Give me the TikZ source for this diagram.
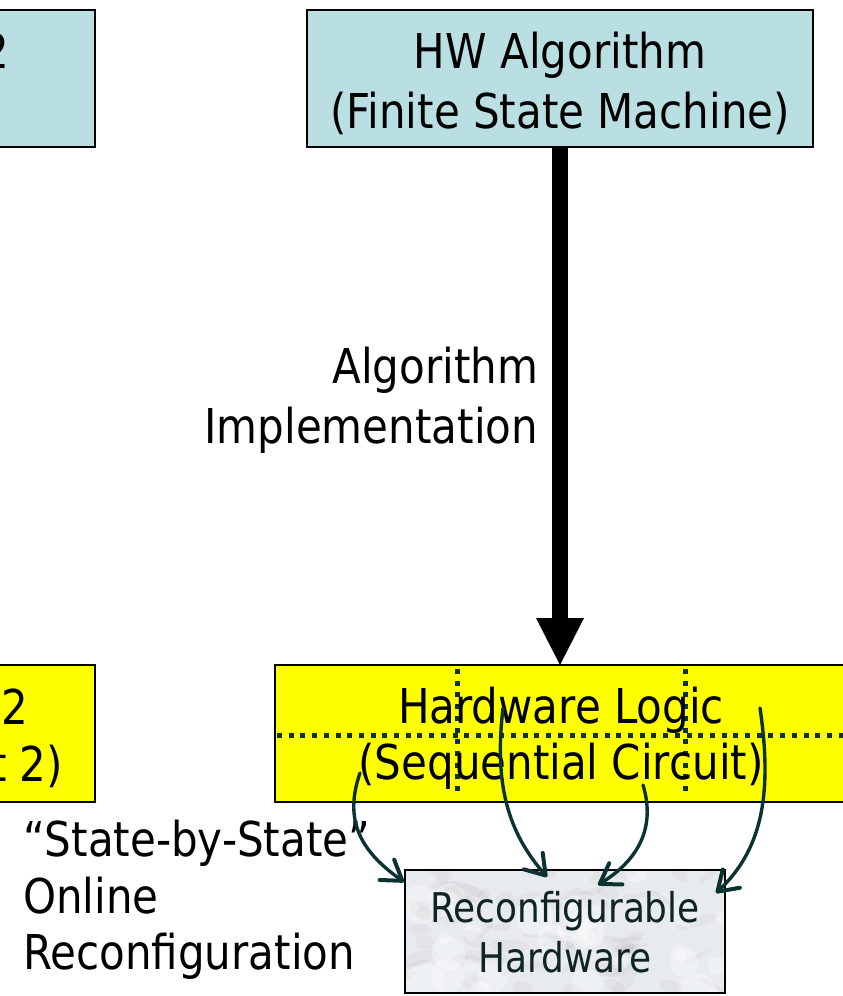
\documentclass[tikz,border=0pt]{standalone}
\usepackage{fontspec}
\setmainfont{DejaVu Sans}[FakeStretch=0.875]
\usetikzlibrary{arrows.meta}

\definecolor{algcyan}{RGB}{186,223,227}
\definecolor{logicyellow}{RGB}{255,255,0}
\definecolor{wire}{RGB}{12,50,50}
\definecolor{marble}{RGB}{232,235,238}
\definecolor{marbleink}{RGB}{16,36,36}

\begin{document}
\begin{tikzpicture}[x=1pt,y=-1pt,
  panel/.style={draw=black, line width=1.6pt, inner sep=0pt, outer sep=0pt},
  bigtext/.style={font=\fontsize{48}{60}\selectfont, inner sep=0pt, outer sep=0pt},
  flow/.style={draw=wire, line width=3.4pt, line cap=round,
    -{Straight Barb[length=19pt,width=25pt,line width=4pt,line cap=round,line join=round]}},
  gridline/.style={draw=wire, line width=5pt, dash pattern=on 5pt off 6.7pt},
]
\useasboundingbox (0,0) rectangle (843,996);
\clip (0,0) rectangle (843,996);

% ---- boxes on the left (cut by the page edge) ----
\node[panel, fill=algcyan, minimum width=300pt, minimum height=137pt,
      anchor=north east] (swalg) at (95,10) {};
\node[bigtext, anchor=base east] (swalgtext) at (9,68) {2};

\node[panel, fill=logicyellow, minimum width=300pt, minimum height=137pt,
      anchor=north east] (swlogic) at (95,665) {};
\node[bigtext, anchor=base east] (swlogictop) at (28,724) {2};
\node[bigtext, anchor=base east] (swlogicbot) at (63,781) {t 2)};

% ---- HW algorithm box ----
\node[panel, fill=algcyan, minimum width=506pt, minimum height=137pt,
      anchor=north west] (hwalg) at (307,10) {};
\node[bigtext, align=center] (hwalgtext) at (560,83)
  {HW Algorithm\\(Finite State Machine)};

% ---- hardware logic box with its dotted partition ----
\node[panel, fill=logicyellow, minimum width=600pt, minimum height=137pt,
      anchor=north west] (hwlogic) at (275,665) {};
\coordinate (hl) at (277,735);
\coordinate (hr) at (850,735);
\coordinate (v1t) at (457,669);
\coordinate (v1b) at (457,796);
\coordinate (v2t) at (685,669);
\coordinate (v2b) at (685,796);
\draw[gridline] (hl) -- (hr);
\draw[gridline] (v1t) -- (v1b);
\draw[gridline] (v2t) -- (v2b);
\node[bigtext, align=center, font=\fontsize{48}{56}\selectfont] (hwlogictext) at (561,738)
  {Hardware Logic\\(Sequential Circuit)};

% ---- thick implementation arrow ----
\draw[line width=16pt, -{Triangle[length=47pt,width=48pt,line width=0pt]}]
  (hwalg.south) -- (hwalg.south |- hwlogic.north);
\node[bigtext, align=right, anchor=east] (implabel) at (538,400)
  {Algorithm\\Implementation};

% ---- reconfigurable hardware (marble) ----
\node[panel, fill=marble, minimum width=320pt, minimum height=123pt,
      anchor=north west] (rhw) at (405,870) {};
\begin{scope}
  \clip (rhw.north west) rectangle (rhw.south east);
  \pgfmathsetseed{11}
  \foreach \i in {1,...,70}{
    \pgfmathsetmacro\mx{405+320*rnd}
    \pgfmathsetmacro\my{870+123*rnd}
    \pgfmathsetmacro\ma{5+18*rnd}
    \pgfmathsetmacro\mb{2+6*rnd}
    \pgfmathsetmacro\mr{-40+80*rnd}
    \fill[black!55, opacity=0.06, rotate around={\mr:(\mx,\my)}]
      (\mx,\my) ellipse ({\ma pt} and {\mb pt});
  }
  \foreach \i in {1,...,30}{
    \pgfmathsetmacro\mx{405+320*rnd}
    \pgfmathsetmacro\my{870+123*rnd}
    \pgfmathsetmacro\ma{6+14*rnd}
    \fill[white, opacity=0.3] (\mx,\my) circle ({\ma pt});
  }
\end{scope}
\draw[black, line width=1.6pt] (rhw.north west) rectangle (rhw.south east);
\node[inner sep=0pt, text=marbleink, align=center,
      font=\fontsize{41}{50}\selectfont] (rhwtext) at (565,932)
  {Reconfigurable\\Hardware};

% ---- online reconfiguration label ----
\node[inner sep=0pt, align=left, anchor=west,
      font=\fontsize{48}{56.5}\selectfont] (onlinelabel) at (23,900)
  {“State-by-State”\\Online\\Reconfiguration};

% ---- state-by-state reconfiguration arrows ----
\coordinate (s1) at (360,773);
\coordinate (t1) at (404,882);
\coordinate (s2) at (503,708);
\coordinate (t2) at (547,877);
\coordinate (s3) at (643,785);
\coordinate (t3) at (598,885);
\coordinate (s4) at (760,708);
\coordinate (t4) at (716,893);
\draw[flow] (s1) .. controls (343,822) and (362,852) .. (t1);
\draw[flow] (s2) .. controls (494,785) and (508,832) .. (t2);
\draw[flow] (s3) .. controls (656,828) and (638,860) .. (t3);
\draw[flow] (s4) .. controls (772,790) and (764,848) .. (t4);
\end{tikzpicture}
\end{document}
